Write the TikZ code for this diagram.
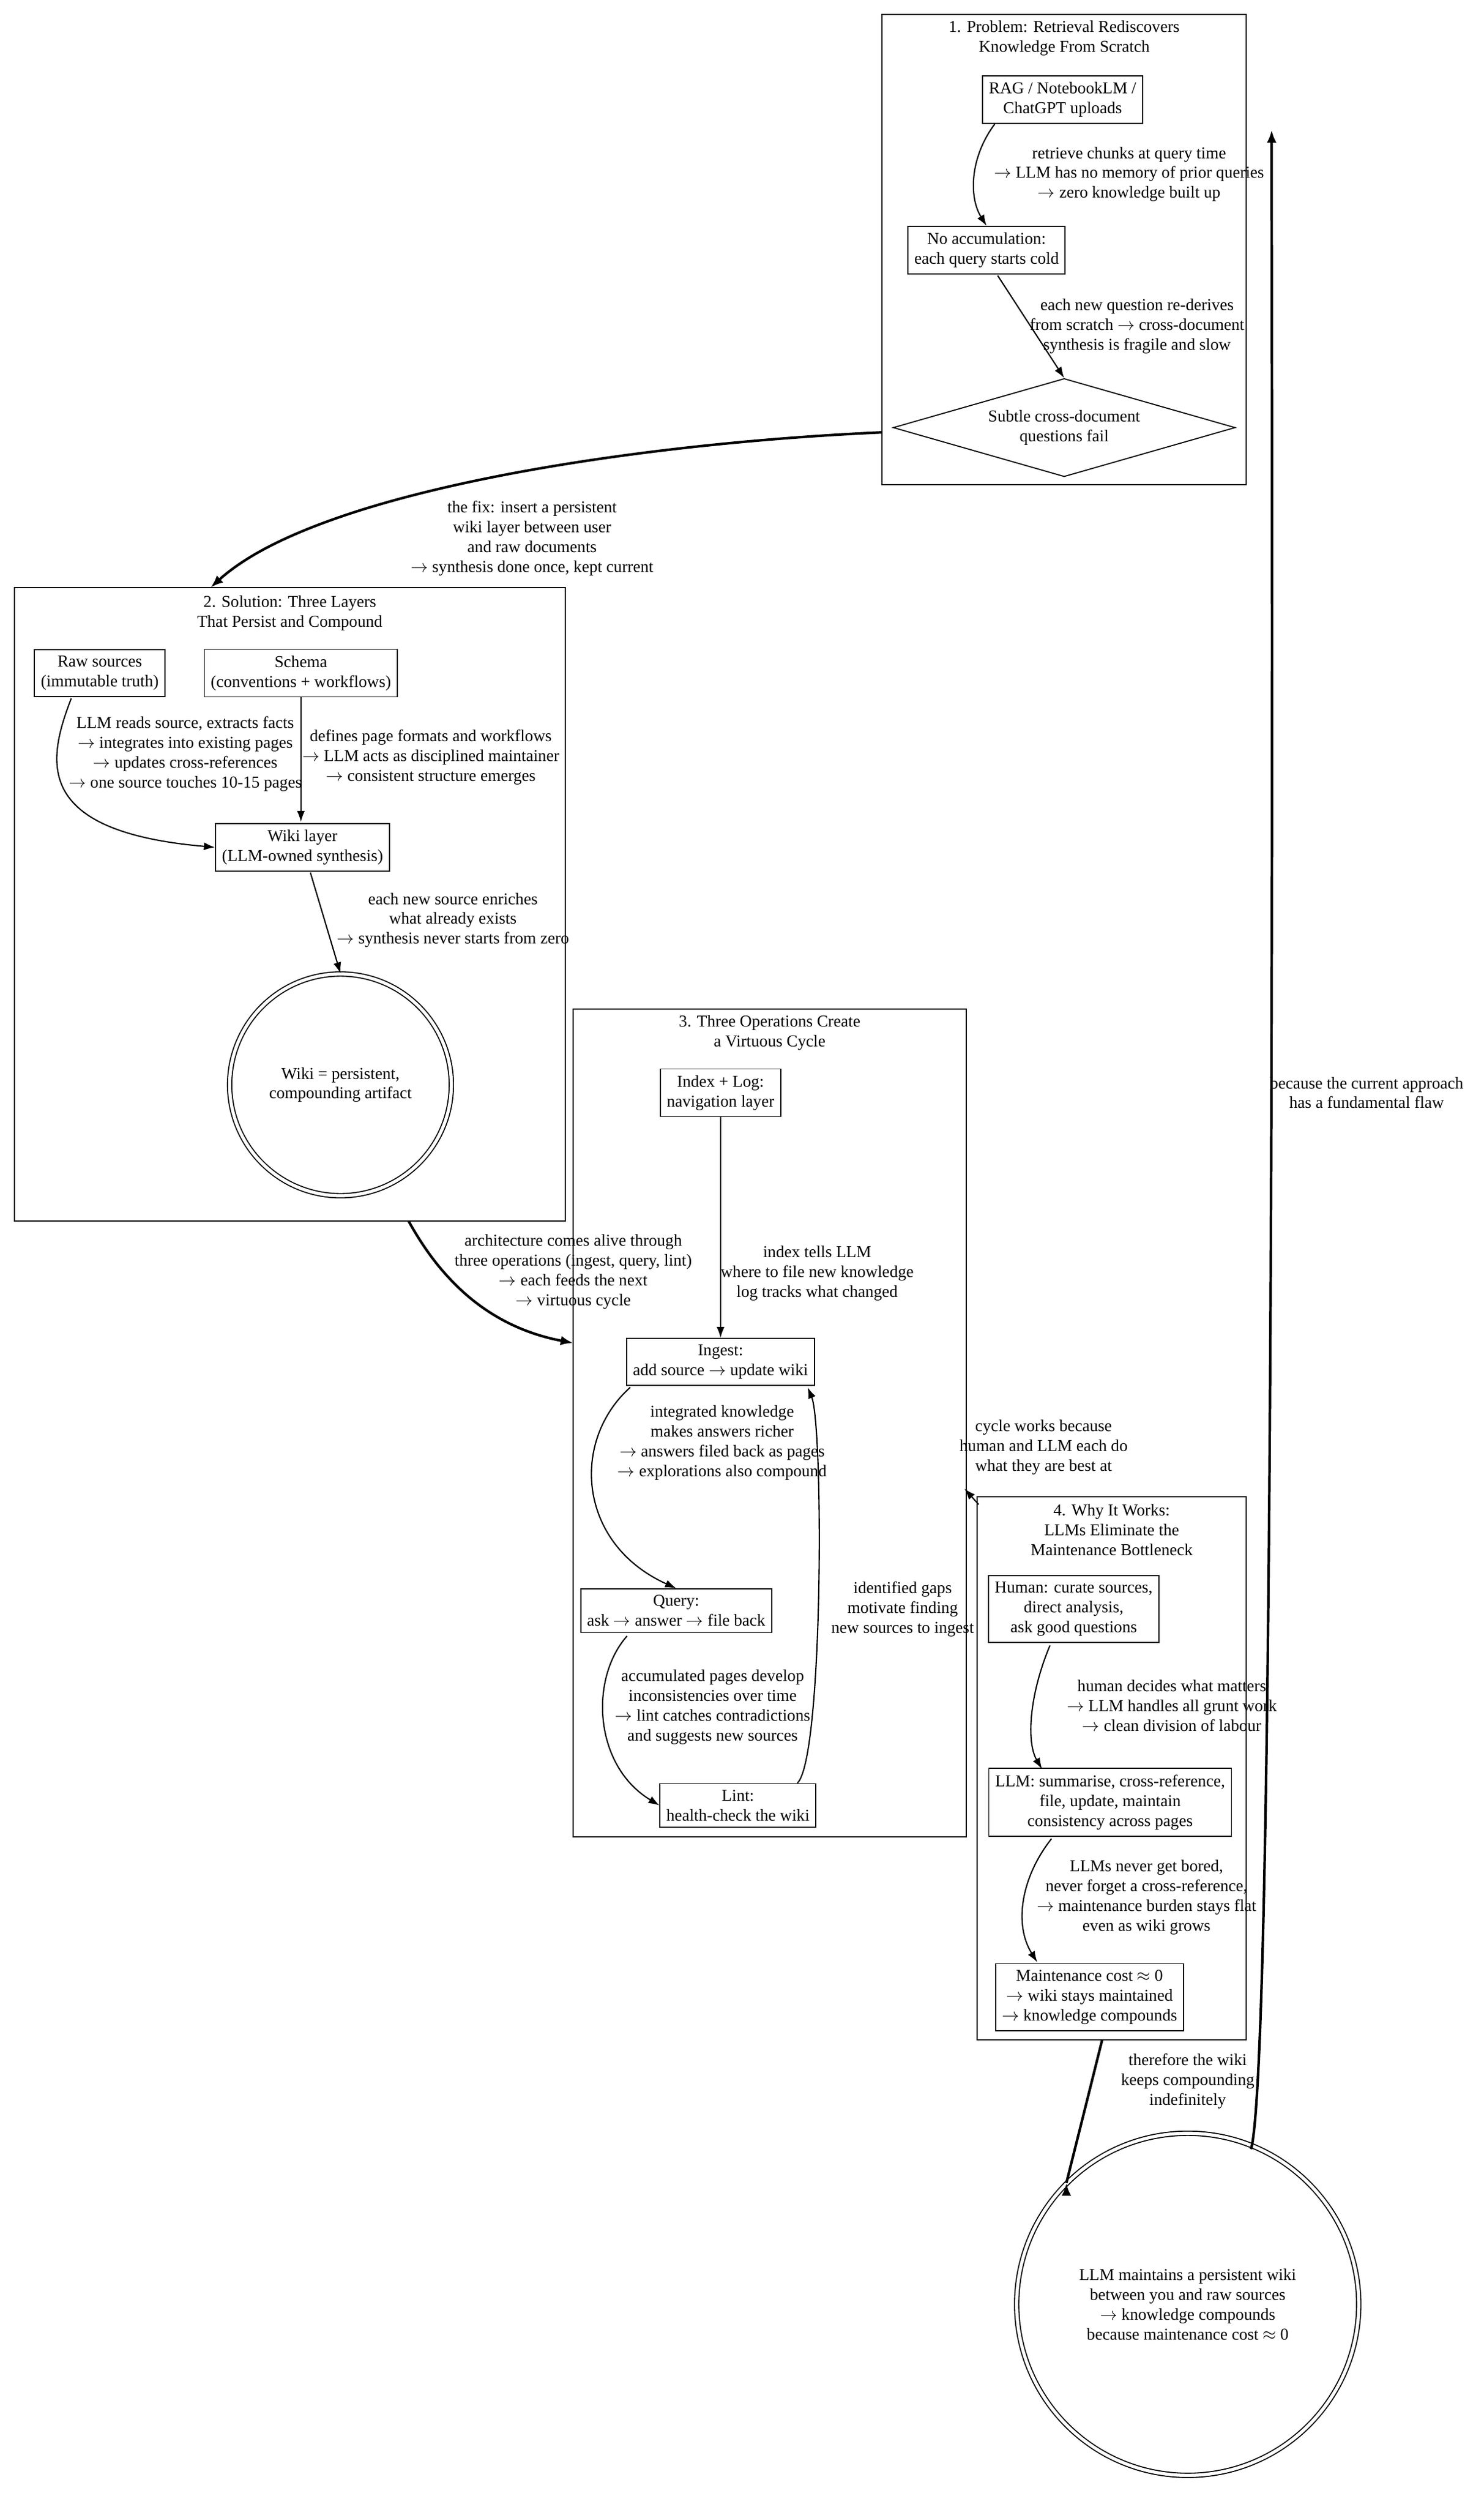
\documentclass[tikz,border=0pt]{standalone}
\usepackage{fontspec}
\setmainfont{Liberation Serif}
\usetikzlibrary{arrows.meta,shapes.geometric}
\begin{document}
\begin{tikzpicture}[x=1pt,y=-1pt,
  every node/.style={font=\fontsize{10.5}{12.5}\selectfont,align=center},
  box/.style={draw,line width=0.7pt,inner sep=4pt},
  clus/.style={draw,line width=0.8pt},
  lbl/.style={inner sep=0pt},
  e/.style={line width=0.8pt,-{Latex[length=7pt,width=5pt]}},
  te/.style={line width=1.6pt,-{Latex[length=8pt,width=6pt]}},
  dc/.style={draw,circle,double,double distance=2pt,line width=0.7pt}]
\useasboundingbox (0,0) rectangle (937,1583);
% clusters
\draw[clus] (557,9) rectangle (787,306);
\node at (672,24) {1. Problem: Retrieval Rediscovers\\Knowledge From Scratch};
\draw[clus] (9,371) rectangle (357,771);
\node at (183,387) {2. Solution: Three Layers\\That Persist and Compound};
\draw[clus] (362,637) rectangle (610,1160);
\node at (486,652) {3. Three Operations Create\\a Virtuous Cycle};
\draw[clus] (617,945) rectangle (787,1288);
\node at (702,966) {4. Why It Works:\\LLMs Eliminate the\\Maintenance Bottleneck};
% cluster anchor coordinates
\coordinate (c1w) at (557,273); \coordinate (c1ne) at (803,82);
\coordinate (c2n) at (133,371); \coordinate (c2s) at (258,771);
\coordinate (c3w) at (362,848); \coordinate (c3e) at (609,940);
\coordinate (c4nw) at (618,950); \coordinate (c4s) at (696,1288);
% nodes
\node[box] (rag) at (671,63) {RAG / NotebookLM /\\ChatGPT uploads};
\node[box] (noacc) at (623,158) {No accumulation:\\each query starts cold};
\node[draw,diamond,aspect=3.5,minimum width=216,minimum height=62,inner sep=0pt,line width=0.7pt] (subtle) at (672,270) {Subtle cross-document\\questions fail};
\node[box] (raw) at (63,425) {Raw sources\\(immutable truth)};
\node[box] (schema) at (190,425) {Schema\\(conventions + workflows)};
\node[box] (wiki) at (191,535) {Wiki layer\\(LLM-owned synthesis)};
\node[dc,minimum size=140] (wcirc) at (215,685) {Wiki = persistent,\\compounding artifact};
\node[box] (index) at (455,690) {Index + Log:\\navigation layer};
\node[box] (ingest) at (455,860) {Ingest:\\add source $\rightarrow$ update wiki};
\node[box] (query) at (427,1017) {Query:\\ask $\rightarrow$ answer $\rightarrow$ file back};
\node[box] (lint) at (466,1140) {Lint:\\health-check the wiki};
\node[box] (human) at (678,1016) {Human: curate sources,\\direct analysis,\\ask good questions};
\node[box] (llm) at (701,1138) {LLM: summarise, cross-reference,\\file, update, maintain\\consistency across pages};
\node[box] (maint) at (688,1261) {Maintenance cost $\approx$ 0\\$\rightarrow$ wiki stays maintained\\$\rightarrow$ knowledge compounds};
\node[dc,minimum size=216] (final) at (750,1455) {LLM maintains a persistent wiki\\between you and raw sources\\$\rightarrow$ knowledge compounds\\because maintenance cost $\approx$ 0};
% edges cluster 1
\draw[e] (rag.south west)+(8,0) .. controls (612,100) and (612,125) .. (noacc.north);
\node[lbl] at (713,110) {retrieve chunks at query time\\$\rightarrow$ LLM has no memory of prior queries\\$\rightarrow$ zero knowledge built up};
\draw[e] (630,174) -- (subtle.north);
\node[lbl] at (718,206) {each new question re-derives\\from scratch $\rightarrow$ cross-document\\synthesis is fragile and slow};
\draw[te] (c1w) .. controls (400,280) and (200,310) .. (c2n);
\node[lbl] at (336,340) {the fix: insert a persistent\\wiki layer between user\\and raw documents\\$\rightarrow$ synthesis done once, kept current};
% cluster 2
\draw[e] (45,441) .. controls (30,480) and (20,525) .. (wiki.west);
\node[lbl] at (117,476) {LLM reads source, extracts facts\\$\rightarrow$ integrates into existing pages\\$\rightarrow$ updates cross-references\\$\rightarrow$ one source touches 10-15 pages};
\draw[e] (schema.south) -- (190,519);
\node[lbl] at (272,478) {defines page formats and workflows\\$\rightarrow$ LLM acts as disciplined maintainer\\$\rightarrow$ consistent structure emerges};
\draw[e] (196,551) -- (wcirc.north);
\node[lbl] at (286,581) {each new source enriches\\what already exists\\$\rightarrow$ synthesis never starts from zero};
\draw[te] (c2s) .. controls (285,820) and (320,840) .. (c3w);
\node[lbl] at (362,803) {architecture comes alive through\\three operations (ingest, query, lint)\\$\rightarrow$ each feeds the next\\$\rightarrow$ virtuous cycle};
% cluster 3
\draw[e] (index.south) -- (ingest.north);
\node[lbl] at (516,804) {index tells LLM\\where to file new knowledge\\log tracks what changed};
\draw[e] (398,876) .. controls (360,910) and (365,975) .. (query.north);
\node[lbl] at (456,911) {integrated knowledge\\makes answers richer\\$\rightarrow$ answers filed back as pages\\$\rightarrow$ explorations also compound};
\draw[e] (396,1033) .. controls (372,1060) and (375,1115) .. (lint.west);
\node[lbl] at (450,1078) {accumulated pages develop\\inconsistencies over time\\$\rightarrow$ lint catches contradictions\\and suggests new sources};
\draw[e] (lint.north east)+(-12,0) .. controls (520,1110) and (520,900) .. (510,876);
\node[lbl] at (570,1016) {identified gaps\\motivate finding\\new sources to ingest};
% cluster 4
\draw[e] (c4nw) -- (c3e);
\node[lbl] at (659,914) {cycle works because\\human and LLM each do\\what they are best at};
\draw[e] (663,1039) .. controls (650,1070) and (648,1100) .. (658,1117);
\node[lbl] at (740,1077) {human decides what matters\\$\rightarrow$ LLM handles all grunt work\\$\rightarrow$ clean division of labour};
\draw[e] (664,1161) .. controls (645,1185) and (640,1215) .. (655,1239);
\node[lbl] at (724,1198) {LLMs never get bored,\\never forget a cross-reference,\\$\rightarrow$ maintenance burden stays flat\\even as wiki grows};
\draw[te] (c4s) -- (final.north west)+(0,0);
\node[lbl] at (750,1314) {therefore the wiki\\keeps compounding\\indefinitely};
\draw[te] (790,1357) .. controls (806,1300) and (803,300) .. (c1ne);
\node[lbl] at (863,690) {because the current approach\\has a fundamental flaw};
\end{tikzpicture}
\end{document}
